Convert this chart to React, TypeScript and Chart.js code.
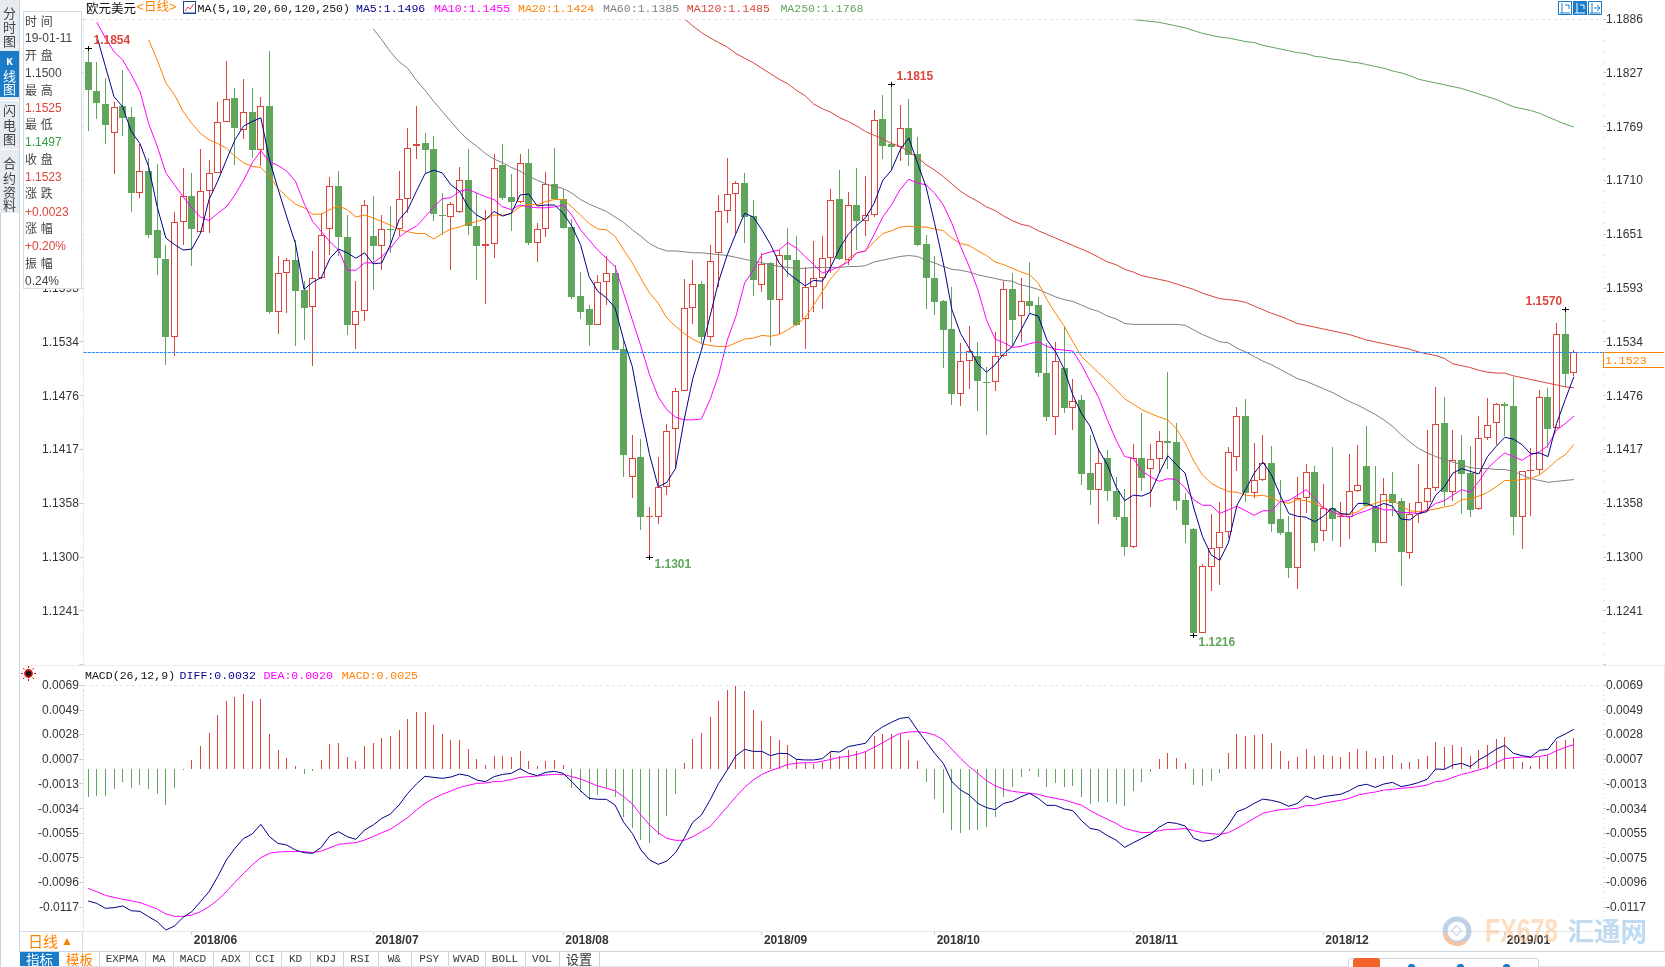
import React, { useEffect, useRef } from "react";
import Chart from "chart.js/auto";

const monthTickIndex = [12, 33, 55, 78, 98, 121, 143, 164];
const monthTickLabels = ["2018/06", "2018/07", "2018/08", "2018/09", "2018/10", "2018/11", "2018/12", "2019/01"];
const slotCount = 176;

const opens = [1.1839,1.1807,1.1793,1.1762,1.1791,1.1779,1.1696,1.1720,1.1656,1.1624,1.1539,1.1664,1.1693,1.1654,1.1698,1.1718,1.1773,1.1800,1.1765,1.1784,1.1743,1.1791,1.1567,1.1609,1.1623,1.1590,1.1572,1.1603,1.1657,1.1704,1.1648,1.1552,1.1568,1.1649,1.1638,1.1657,1.1657,1.1690,1.1747,1.1751,1.1744,1.1672,1.1670,1.1675,1.1710,1.1660,1.1638,1.1641,1.1727,1.1692,1.1686,1.1729,1.1642,1.1657,1.1706,1.1690,1.1659,1.1584,1.1570,1.1552,1.1599,1.1609,1.1526,1.1387,1.1409,1.1343,1.1343,1.1376,1.1439,1.1480,1.1571,1.1597,1.1539,1.1631,1.1677,1.1695,1.1707,1.1671,1.1596,1.1620,1.1580,1.1629,1.1623,1.1559,1.1594,1.1604,1.1625,1.1690,1.1623,1.1683,1.1666,1.1672,1.1777,1.1750,1.1746,1.1767,1.1739,1.1641,1.1604,1.1578,1.1548,1.1477,1.1513,1.1519,1.1490,1.1490,1.1519,1.1592,1.1562,1.1579,1.1574,1.1500,1.1452,1.1506,1.1462,1.1471,1.1391,1.1373,1.1407,1.1372,1.1343,1.1311,1.1408,1.1396,1.1406,1.1426,1.1425,1.1362,1.1330,1.1217,1.1289,1.1309,1.1327,1.1409,1.1453,1.1369,1.1383,1.1402,1.1341,1.1327,1.1288,1.1364,1.1392,1.1328,1.1353,1.1343,1.1343,1.1372,1.1399,1.1354,1.1315,1.1368,1.1361,1.1304,1.1346,1.1360,1.1375,1.1446,1.1370,1.1405,1.1391,1.1352,1.1429,1.1446,1.1466,1.1464,1.1343,1.1393,1.1394,1.1474,1.1440,1.1543,1.1500];
const highs = [1.1854,1.1839,1.1821,1.1795,1.1830,1.1790,1.1750,1.1734,1.1728,1.1639,1.1675,1.1723,1.1718,1.1744,1.1732,1.1795,1.1840,1.1811,1.1820,1.1810,1.1801,1.1851,1.1627,1.1625,1.1645,1.1600,1.1633,1.1674,1.1713,1.1720,1.1672,1.1600,1.1689,1.1693,1.1672,1.1682,1.1720,1.1767,1.1791,1.1762,1.1758,1.1696,1.1686,1.1724,1.1744,1.1696,1.1678,1.1739,1.1750,1.1717,1.1739,1.1744,1.1663,1.1719,1.1745,1.1700,1.1668,1.1610,1.1574,1.1607,1.1627,1.1618,1.1536,1.1433,1.1428,1.1354,1.1409,1.1445,1.1484,1.1602,1.1623,1.1600,1.1639,1.1694,1.1734,1.1709,1.1718,1.1689,1.1631,1.1621,1.1634,1.1658,1.1649,1.1615,1.1644,1.1649,1.1700,1.1721,1.1697,1.1723,1.1715,1.1786,1.1803,1.1815,1.1792,1.1798,1.1757,1.1650,1.1628,1.1580,1.1594,1.1533,1.1551,1.1534,1.1507,1.1545,1.1600,1.1609,1.1604,1.1621,1.1583,1.1533,1.1534,1.1551,1.1493,1.1476,1.1433,1.1418,1.1416,1.1387,1.1374,1.1423,1.1456,1.1423,1.1437,1.1501,1.1446,1.1369,1.1331,1.1292,1.1347,1.1360,1.1419,1.1463,1.1472,1.1424,1.1433,1.1421,1.1384,1.1344,1.1387,1.1401,1.1399,1.1379,1.1419,1.1360,1.1412,1.1422,1.1442,1.1399,1.1386,1.1392,1.1364,1.1358,1.1401,1.1438,1.1485,1.1474,1.1438,1.1432,1.1420,1.1453,1.1473,1.1467,1.1468,1.1496,1.1393,1.1418,1.1482,1.1484,1.1555,1.1570,1.1525];
const lows = [1.1764,1.1777,1.1750,1.1717,1.1758,1.1675,1.1691,1.1647,1.1607,1.1509,1.1519,1.1640,1.1617,1.1654,1.1653,1.1718,1.1773,1.1727,1.1755,1.1734,1.1726,1.1564,1.1543,1.1565,1.1530,1.1536,1.1508,1.1602,1.1629,1.1627,1.1541,1.1526,1.1557,1.1591,1.1612,1.1631,1.1649,1.1674,1.1733,1.1718,1.1666,1.1650,1.1612,1.1674,1.1650,1.1601,1.1575,1.1625,1.1689,1.1655,1.1685,1.1640,1.1621,1.1648,1.1689,1.1657,1.1581,1.1559,1.1529,1.1552,1.1574,1.1525,1.1387,1.1364,1.1329,1.1300,1.1336,1.1367,1.1395,1.1480,1.1553,1.1533,1.1534,1.1594,1.1663,1.1652,1.1642,1.1584,1.1588,1.1529,1.1543,1.1605,1.1551,1.1526,1.1566,1.1570,1.1609,1.1623,1.1618,1.1634,1.1649,1.1670,1.1733,1.1721,1.1731,1.1726,1.1638,1.1570,1.1563,1.1505,1.1465,1.1464,1.1483,1.1459,1.1432,1.1480,1.1518,1.1529,1.1534,1.1565,1.1496,1.1448,1.1433,1.1456,1.1438,1.1378,1.1356,1.1336,1.1361,1.1340,1.1301,1.1309,1.1371,1.1354,1.1391,1.1395,1.1351,1.1315,1.1215,1.1217,1.1263,1.1269,1.1320,1.1393,1.1359,1.1364,1.1382,1.1327,1.1324,1.1277,1.1265,1.1348,1.1306,1.1317,1.1317,1.1311,1.1319,1.1370,1.1355,1.1305,1.1315,1.1344,1.1268,1.1298,1.1337,1.1351,1.1371,1.1355,1.1361,1.1347,1.1343,1.1351,1.1427,1.1422,1.1431,1.1324,1.1308,1.1344,1.1389,1.1418,1.1440,1.1485,1.1497];
const closes = [1.1808,1.1794,1.1770,1.1790,1.1778,1.1696,1.1720,1.1650,1.1625,1.1539,1.1664,1.1693,1.1657,1.1698,1.1718,1.1773,1.1799,1.1767,1.1784,1.1743,1.1791,1.1567,1.1609,1.1623,1.1589,1.1571,1.1603,1.1650,1.1704,1.1648,1.1552,1.1568,1.1683,1.1638,1.1657,1.1656,1.1690,1.1745,1.1750,1.1743,1.1673,1.1671,1.1684,1.1710,1.1660,1.1638,1.1641,1.1723,1.1691,1.1686,1.1729,1.1642,1.1657,1.1706,1.1690,1.1658,1.1583,1.1567,1.1552,1.1599,1.1609,1.1525,1.1411,1.1408,1.1343,1.1344,1.1376,1.1437,1.1480,1.1571,1.1597,1.1539,1.1622,1.1677,1.1695,1.1707,1.1670,1.1601,1.1619,1.1580,1.1629,1.1623,1.1552,1.1594,1.1604,1.1625,1.1689,1.1624,1.1683,1.1666,1.1672,1.1776,1.1747,1.1746,1.1767,1.1738,1.1640,1.1603,1.1577,1.1547,1.1477,1.1513,1.1524,1.1491,1.1489,1.1519,1.1592,1.1558,1.1578,1.1573,1.1500,1.1452,1.1513,1.1462,1.1470,1.1390,1.1373,1.1402,1.1371,1.1343,1.1311,1.1407,1.1386,1.1406,1.1426,1.1424,1.1361,1.1335,1.1217,1.1290,1.1309,1.1327,1.1414,1.1453,1.1369,1.1383,1.1402,1.1336,1.1326,1.1288,1.1364,1.1392,1.1315,1.1353,1.1341,1.1344,1.1372,1.1378,1.1355,1.1315,1.1368,1.1358,1.1305,1.1347,1.1360,1.1375,1.1445,1.1370,1.1405,1.1390,1.1351,1.1429,1.1443,1.1466,1.1464,1.1343,1.1393,1.1394,1.1474,1.1439,1.1542,1.1499,1.1523];

const ma5Start = 1;
const ma5 = [1.1867,1.1834,1.1801,1.1790,1.1763,1.1750,1.1725,1.1681,1.1647,1.1640,1.1634,1.1635,1.1652,1.1689,1.1709,1.1732,1.1754,1.1769,1.1774,1.1778,1.1732,1.1700,1.1670,1.1641,1.1591,1.1599,1.1604,1.1625,1.1635,1.1631,1.1625,1.1631,1.1619,1.1620,1.1640,1.1667,1.1678,1.1698,1.1717,1.1721,1.1718,1.1705,1.1698,1.1681,1.1672,1.1667,1.1676,1.1671,1.1674,1.1694,1.1695,1.1682,1.1683,1.1683,1.1674,1.1660,1.1640,1.1605,1.1589,1.1582,1.1571,1.1536,1.1507,1.1456,1.1411,1.1376,1.1381,1.1396,1.1449,1.1494,1.1525,1.1562,1.1600,1.1629,1.1652,1.1674,1.1670,1.1656,1.1640,1.1620,1.1609,1.1602,1.1595,1.1601,1.1600,1.1616,1.1636,1.1651,1.1661,1.1669,1.1685,1.1710,1.1721,1.1743,1.1756,1.1729,1.1703,1.1663,1.1620,1.1569,1.1543,1.1527,1.1510,1.1501,1.1509,1.1521,1.1529,1.1547,1.1565,1.1562,1.1536,1.1523,1.1504,1.1476,1.1456,1.1442,1.1416,1.1400,1.1376,1.1361,1.1367,1.1366,1.1370,1.1391,1.1410,1.1400,1.1391,1.1353,1.1322,1.1302,1.1296,1.1315,1.1356,1.1373,1.1391,1.1403,1.1389,1.1367,1.1347,1.1344,1.1343,1.1338,1.1344,1.1353,1.1347,1.1346,1.1358,1.1358,1.1354,1.1358,1.1355,1.1341,1.1340,1.1347,1.1349,1.1367,1.1376,1.1391,1.1396,1.1393,1.1390,1.1409,1.1420,1.1430,1.1428,1.1422,1.1412,1.1413,1.1409,1.1445,1.1471,1.1496];
const ma10Start = 1;
const ma10 = [1.1882,1.1865,1.1850,1.1841,1.1825,1.1807,1.1772,1.1747,1.1718,1.1705,1.1692,1.1680,1.1670,1.1666,1.1674,1.1681,1.1694,1.1710,1.1729,1.1742,1.1730,1.1726,1.1720,1.1709,1.1685,1.1665,1.1654,1.1643,1.1634,1.1612,1.1612,1.1620,1.1620,1.1627,1.1636,1.1648,1.1655,1.1660,1.1670,1.1681,1.1690,1.1691,1.1698,1.1700,1.1696,1.1692,1.1689,1.1681,1.1678,1.1683,1.1681,1.1680,1.1680,1.1681,1.1683,1.1672,1.1656,1.1645,1.1634,1.1625,1.1616,1.1587,1.1558,1.1529,1.1498,1.1474,1.1460,1.1452,1.1449,1.1449,1.1450,1.1471,1.1498,1.1536,1.1562,1.1598,1.1612,1.1629,1.1632,1.1634,1.1642,1.1636,1.1627,1.1618,1.1609,1.1612,1.1616,1.1621,1.1631,1.1633,1.1651,1.1670,1.1683,1.1700,1.1711,1.1707,1.1705,1.1696,1.1683,1.1663,1.1638,1.1616,1.1591,1.1558,1.1537,1.1533,1.1528,1.1529,1.1532,1.1534,1.1529,1.1526,1.1525,1.1524,1.1509,1.1491,1.1473,1.1449,1.1427,1.1409,1.1407,1.1393,1.1387,1.1382,1.1385,1.1384,1.1375,1.1362,1.1356,1.1356,1.1347,1.1351,1.1355,1.1350,1.1345,1.1350,1.1350,1.1360,1.1361,1.1367,1.1373,1.1364,1.1353,1.1349,1.1345,1.1343,1.1347,1.1350,1.1354,1.1351,1.1351,1.1348,1.1348,1.1347,1.1351,1.1358,1.1361,1.1367,1.1373,1.1370,1.1382,1.1396,1.1405,1.1413,1.1409,1.1405,1.1411,1.1414,1.1421,1.1438,1.1445,1.1453];
const ma20Start = 7;
const ma20 = [1.1863,1.1841,1.1816,1.1803,1.1785,1.1772,1.1761,1.1754,1.1750,1.1745,1.1736,1.1729,1.1725,1.1724,1.1714,1.1701,1.1692,1.1684,1.1680,1.1673,1.1673,1.1678,1.1682,1.1678,1.1670,1.1672,1.1669,1.1665,1.1661,1.1656,1.1654,1.1652,1.1652,1.1646,1.1652,1.1657,1.1659,1.1663,1.1665,1.1668,1.1672,1.1672,1.1674,1.1681,1.1684,1.1683,1.1687,1.1689,1.1689,1.1681,1.1672,1.1663,1.1657,1.1656,1.1649,1.1634,1.1620,1.1603,1.1587,1.1576,1.1560,1.1551,1.1543,1.1537,1.1532,1.1530,1.1529,1.1529,1.1533,1.1537,1.1538,1.1541,1.1540,1.1542,1.1547,1.1553,1.1560,1.1574,1.1589,1.1603,1.1614,1.1625,1.1631,1.1633,1.1643,1.1652,1.1655,1.1659,1.1660,1.1659,1.1659,1.1657,1.1655,1.1647,1.1641,1.1639,1.1633,1.1628,1.1621,1.1618,1.1614,1.1610,1.1607,1.1598,1.1580,1.1565,1.1551,1.1534,1.1518,1.1509,1.1500,1.1491,1.1482,1.1472,1.1466,1.1460,1.1456,1.1452,1.1449,1.1439,1.1424,1.1404,1.1389,1.1380,1.1375,1.1371,1.1370,1.1367,1.1366,1.1367,1.1364,1.1360,1.1358,1.1362,1.1361,1.1358,1.1353,1.1349,1.1346,1.1346,1.1349,1.1355,1.1358,1.1361,1.1362,1.1355,1.1350,1.1349,1.1350,1.1352,1.1354,1.1356,1.1362,1.1363,1.1366,1.1370,1.1376,1.1383,1.1383,1.1384,1.1385,1.1389,1.1396,1.1405,1.1411,1.1422];
const ma60Start = 33;
const ma60 = [1.1875,1.1863,1.1850,1.1839,1.1832,1.1819,1.1808,1.1796,1.1785,1.1774,1.1763,1.1754,1.1747,1.1739,1.1733,1.1729,1.1724,1.1720,1.1714,1.1710,1.1706,1.1703,1.1701,1.1696,1.1689,1.1684,1.1680,1.1676,1.1670,1.1664,1.1656,1.1649,1.1641,1.1636,1.1633,1.1633,1.1632,1.1631,1.1631,1.1630,1.1629,1.1628,1.1626,1.1624,1.1622,1.1620,1.1618,1.1616,1.1615,1.1614,1.1614,1.1615,1.1615,1.1615,1.1615,1.1616,1.1616,1.1617,1.1621,1.1623,1.1625,1.1627,1.1628,1.1627,1.1623,1.1620,1.1616,1.1613,1.1612,1.1610,1.1607,1.1605,1.1603,1.1601,1.1600,1.1596,1.1594,1.1591,1.1587,1.1583,1.1580,1.1578,1.1574,1.1570,1.1567,1.1562,1.1559,1.1554,1.1553,1.1553,1.1553,1.1553,1.1553,1.1553,1.1552,1.1547,1.1542,1.1538,1.1534,1.1533,1.1527,1.1523,1.1518,1.1513,1.1509,1.1504,1.1499,1.1494,1.1491,1.1487,1.1483,1.1479,1.1474,1.1469,1.1465,1.1460,1.1455,1.1449,1.1442,1.1433,1.1425,1.1418,1.1413,1.1409,1.1406,1.1403,1.1400,1.1397,1.1396,1.1396,1.1395,1.1395,1.1393,1.1389,1.1385,1.1383,1.1381,1.1382,1.1383,1.1384];
const ma120Start = 69;
const ma120 = [1.1886,1.1878,1.1871,1.1865,1.1860,1.1855,1.1848,1.1843,1.1838,1.1832,1.1826,1.1820,1.1815,1.1808,1.1802,1.1793,1.1788,1.1784,1.1778,1.1774,1.1769,1.1763,1.1759,1.1755,1.1750,1.1747,1.1741,1.1735,1.1727,1.1721,1.1714,1.1706,1.1698,1.1692,1.1687,1.1681,1.1677,1.1671,1.1666,1.1662,1.1660,1.1655,1.1651,1.1647,1.1643,1.1639,1.1635,1.1631,1.1626,1.1621,1.1618,1.1613,1.1610,1.1606,1.1604,1.1602,1.1600,1.1597,1.1594,1.1591,1.1587,1.1584,1.1581,1.1580,1.1579,1.1577,1.1573,1.1569,1.1565,1.1562,1.1558,1.1554,1.1552,1.1550,1.1548,1.1546,1.1544,1.1542,1.1539,1.1536,1.1534,1.1532,1.1530,1.1528,1.1526,1.1523,1.1521,1.1519,1.1516,1.1510,1.1508,1.1506,1.1503,1.1501,1.1500,1.1500,1.1497,1.1495,1.1493,1.1491,1.1489,1.1487,1.1485,1.1484];
const ma250Start = 121;
const ma250 = [1.1885,1.1884,1.1883,1.1882,1.1880,1.1878,1.1876,1.1873,1.1870,1.1868,1.1866,1.1865,1.1863,1.1861,1.1860,1.1857,1.1855,1.1853,1.1851,1.1849,1.1848,1.1845,1.1844,1.1842,1.1841,1.1839,1.1838,1.1836,1.1834,1.1832,1.1829,1.1827,1.1824,1.1820,1.1818,1.1816,1.1814,1.1812,1.1810,1.1807,1.1804,1.1801,1.1798,1.1794,1.1790,1.1788,1.1786,1.1783,1.1779,1.1775,1.1771,1.1768];

const macdHist = [-0.00235,-0.00227,-0.00227,-0.00171,-0.00109,-0.00159,-0.00137,-0.00173,-0.0021,-0.00305,-0.00159,-0.00011,0.00073,0.0019,0.00302,0.0045,0.00568,0.00601,0.00629,0.00568,0.00585,0.00291,0.00157,0.00087,0.00022,-0.00042,-0.0002,0.00073,0.00207,0.00215,0.00098,0.00064,0.0019,0.00215,0.00257,0.00274,0.00324,0.00417,0.00475,0.00475,0.00366,0.00291,0.00241,0.00241,0.00165,0.00081,0.00031,0.00106,0.00106,0.00098,0.00148,0.00064,0.00022,0.00064,0.00073,0.00031,-0.00165,-0.00193,-0.00263,-0.00221,-0.00165,-0.00235,-0.00403,-0.00495,-0.00599,-0.00621,-0.00557,-0.00394,-0.00213,0.00048,0.00249,0.00299,0.00434,0.00568,0.0066,0.00694,0.00652,0.00492,0.004,0.00274,0.00241,0.00199,0.00081,0.00048,0.00039,0.00056,0.0014,0.00106,0.00157,0.00148,0.00148,0.00274,0.00291,0.00291,0.00291,0.00241,0.00064,-0.00109,-0.00252,-0.00369,-0.00512,-0.00537,-0.00512,-0.00512,-0.00487,-0.00403,-0.00235,-0.00151,-0.00067,-0.00017,-0.00067,-0.00151,-0.00117,-0.00151,-0.00145,-0.00235,-0.00294,-0.00277,-0.00277,-0.00294,-0.0031,-0.00185,-0.00109,-0.00025,0.00081,0.00131,0.0009,0.00048,-0.00134,-0.00143,-0.00101,-0.00034,0.00131,0.00291,0.00274,0.00283,0.00291,0.00215,0.00148,0.00064,0.00098,0.00165,0.00106,0.00115,0.00106,0.00098,0.0014,0.00165,0.00148,0.0009,0.00106,0.00115,0.00048,0.00056,0.00081,0.00106,0.00224,0.00182,0.00199,0.00182,0.00106,0.00157,0.00199,0.00249,0.00266,0.0009,0.00056,0.00022,0.00098,0.00115,0.00232,0.00241,0.00257];
const macdDiff = [-0.0111,-0.0113,-0.01172,-0.01166,-0.01152,-0.01192,-0.01197,-0.01242,-0.01284,-0.01354,-0.0132,-0.01247,-0.012,-0.01116,-0.01032,-0.00906,-0.00766,-0.00668,-0.00585,-0.00548,-0.00467,-0.00571,-0.00627,-0.00641,-0.00682,-0.00705,-0.0071,-0.0066,-0.00562,-0.00529,-0.00571,-0.00593,-0.00515,-0.00473,-0.00417,-0.0038,-0.00305,-0.00207,-0.00129,-0.00064,-0.00073,-0.00081,-0.0007,-0.00045,-0.00059,-0.00095,-0.00109,-0.00067,-0.00048,-0.00039,0,-0.00039,-0.00059,-0.00031,-0.00022,-0.00039,-0.00109,-0.00185,-0.00249,-0.00257,-0.00257,-0.00305,-0.0045,-0.00543,-0.00682,-0.00766,-0.00803,-0.00775,-0.00705,-0.00585,-0.0045,-0.00389,-0.00263,-0.00123,-0.00011,0.00109,0.00162,0.00145,0.00145,0.00109,0.00129,0.00126,0.00078,0.00073,0.00073,0.00084,0.00145,0.0014,0.00185,0.00199,0.00213,0.00302,0.00352,0.00389,0.00422,0.00431,0.00324,0.00227,0.00129,0.00045,-0.00109,-0.00179,-0.00221,-0.00291,-0.00327,-0.00344,-0.00291,-0.00274,-0.00235,-0.00207,-0.00249,-0.00308,-0.00308,-0.00338,-0.00352,-0.00436,-0.00501,-0.00515,-0.00562,-0.00599,-0.0066,-0.00621,-0.00585,-0.00548,-0.00492,-0.0045,-0.00459,-0.00481,-0.00585,-0.0061,-0.00599,-0.00562,-0.00473,-0.00361,-0.00333,-0.00291,-0.00255,-0.00266,-0.00283,-0.00316,-0.00291,-0.00229,-0.00257,-0.00235,-0.00224,-0.00215,-0.00185,-0.00145,-0.00131,-0.00157,-0.00129,-0.00115,-0.00151,-0.00137,-0.00117,-0.0009,-0.00003,-0.00006,0.00031,0.00045,0.00017,0.00073,0.00115,0.00162,0.00196,0.00129,0.00109,0.00098,0.00154,0.00162,0.00255,0.00291,0.0033];
const macdDea = [-0.01004,-0.01032,-0.01063,-0.0108,-0.01096,-0.01108,-0.01124,-0.0115,-0.01178,-0.01219,-0.01239,-0.01239,-0.01228,-0.012,-0.01158,-0.01102,-0.01032,-0.00954,-0.00878,-0.00808,-0.00747,-0.0071,-0.00699,-0.00696,-0.00696,-0.00696,-0.00705,-0.00691,-0.00663,-0.00635,-0.00627,-0.00621,-0.00599,-0.00571,-0.00537,-0.00509,-0.00459,-0.00411,-0.00347,-0.00291,-0.00249,-0.00215,-0.00187,-0.00157,-0.0014,-0.00123,-0.0012,-0.00109,-0.00106,-0.0009,-0.00073,-0.00067,-0.00062,-0.00053,-0.00048,-0.00048,-0.00067,-0.00087,-0.00115,-0.00145,-0.00165,-0.00185,-0.00235,-0.00296,-0.00389,-0.00473,-0.00537,-0.00585,-0.00601,-0.00601,-0.00571,-0.00529,-0.00487,-0.00403,-0.00319,-0.00235,-0.00157,-0.00095,-0.00048,-0.00017,0.00008,0.00036,0.00045,0.0005,0.0005,0.00062,0.00078,0.00095,0.00103,0.0012,0.00143,0.00179,0.00218,0.0026,0.00296,0.00308,0.0031,0.00302,0.00283,0.00241,0.00162,0.00087,0.00017,-0.00039,-0.00101,-0.00143,-0.00173,-0.0019,-0.00199,-0.00207,-0.00215,-0.00235,-0.00249,-0.00263,-0.00285,-0.00305,-0.00352,-0.00389,-0.00425,-0.00459,-0.00501,-0.0052,-0.00537,-0.00534,-0.0052,-0.00509,-0.00509,-0.00501,-0.0052,-0.00537,-0.00545,-0.00551,-0.00537,-0.00501,-0.00459,-0.00417,-0.00375,-0.00358,-0.00344,-0.00338,-0.00333,-0.0031,-0.00308,-0.00291,-0.00277,-0.00266,-0.00249,-0.00221,-0.00207,-0.00196,-0.00179,-0.00173,-0.00165,-0.00159,-0.00151,-0.00137,-0.00109,-0.00101,-0.00073,-0.00048,-0.00031,-0.00011,0.00011,0.0005,0.00084,0.00092,0.00098,0.00095,0.00103,0.00115,0.00151,0.00179,0.00201];

const mainTickValues = [1.1886,1.18274,1.17688,1.17102,1.16516,1.1593,1.15344,1.14758,1.14172,1.13586,1.13,1.12414];
const mainTickLabels = ["1.1886","1.1827","1.1769","1.1710","1.1651","1.1593","1.1534","1.1476","1.1417","1.1358","1.1300","1.1241"];
const macdTickValues = [0.00702,0.00498,0.00291,0.00081,-0.00123,-0.00332,-0.00537,-0.00744,-0.00948,-0.01157];
const macdTickLabels = ["0.0069","0.0049","0.0028","0.0007","-0.0013","-0.0034","-0.0055","-0.0075","-0.0096","-0.0117"];

const extremeIndex = [0, 93, 65, 171, 128];
const extremeValue = [1.1854, 1.1815, 1.13, 1.157, 1.1215];
const extremeText = ["1.1854", "1.1815", "1.1301", "1.1570", "1.1216"];
const extremeKind = ["high", "high", "low", "high", "low"];

const RED = "#dc453c";
const GREEN = "#60a55c";
const UI = '"Liberation Sans", Arial, sans-serif';
const CJK = '"Noto Sans CJK SC", sans-serif';
const MONO = '"Liberation Mono", "Noto Sans CJK SC", monospace';

const categories = Array.from({ length: slotCount }, (_, i) => {
  const k = monthTickIndex.indexOf(i);
  return k >= 0 ? monthTickLabels[k] : String(i);
});
const pad = (start: number, values: number[]) => [...Array(start).fill(null), ...values];
const isUp = opens.map((o, i) => closes[i] >= o);

const lineDs = (label: string, data: any[], color: string, order: number, yAxisID = "y") => ({
  type: "line" as const, label, data, borderColor: color, backgroundColor: color, borderWidth: 1,
  pointRadius: 0, tension: 0, order, yAxisID,
});

const snapBars = {
  id: "snapBars",
  afterDatasetsUpdate(chart: any) {
    chart.data.datasets.forEach((ds: any, i: number) => {
      if (ds.type === "line") return;
      chart.getDatasetMeta(i).data.forEach((el: any) => {
        el.x = Math.floor(el.x) + 0.5;
        el.y = Math.round(el.y);
        el.base = Math.round(el.base);
        if (ds.minHeight && el.base === el.y) el.base = el.y + 1;
      });
    });
  },
};

const axisMarks = (values: number[]) => ({
  id: "axisMarks",
  afterDraw(chart: any) {
    const { ctx, chartArea, scales } = chart;
    const y = scales.y;
    const stepPx = (y.getPixelForValue(values[values.length - 1]) - y.getPixelForValue(values[0])) / (values.length - 1);
    ctx.save();
    ctx.fillStyle = "#c4ccd2";
    const top = y.getPixelForValue(values[0]);
    for (let k = 0; top + (k * stepPx) / 5 < chartArea.bottom; k++) {
      const p = Math.round(top + (k * stepPx) / 5);
      if (k % 5 === 0) {
        ctx.fillRect(chartArea.left - 4.5, p, 4, 1);
        ctx.fillRect(chartArea.right - 1, p, 3, 1);
      } else {
        ctx.fillRect(chartArea.left - 1, p, 1, 1);
        ctx.fillRect(chartArea.right - 1, p, 1, 1);
      }
    }
    ctx.strokeStyle = "#e4e4e4";
    ctx.setLineDash([3, 3]);
    ctx.beginPath();
    ctx.moveTo(chartArea.left, Math.round(top) + 0.5);
    ctx.lineTo(chartArea.right - 4, Math.round(top) + 0.5);
    ctx.stroke();
    ctx.restore();
  },
});

const priceMarks = {
  id: "priceMarks",
  afterDatasetsDraw(chart: any) {
    const { ctx, chartArea, scales } = chart;
    const last = closes[closes.length - 1];
    const py = Math.round(scales.y.getPixelForValue(last)) + 0.5;
    ctx.save();
    ctx.strokeStyle = "#1a8cff";
    ctx.lineWidth = 1;
    ctx.setLineDash([3, 1]);
    ctx.beginPath();
    ctx.moveTo(chartArea.left, py);
    ctx.lineTo(chartArea.right, py);
    ctx.stroke();
    ctx.setLineDash([]);
    ctx.font = `bold 12px ${UI}`;
    ctx.textBaseline = "middle";
    extremeIndex.forEach((idx, k) => {
      const x = Math.floor(scales.x.getPixelForValue(idx)) + 0.5;
      const y = Math.round(scales.y.getPixelForValue(extremeValue[k]));
      ctx.fillStyle = "#000";
      ctx.fillRect(x - 3.5, y, 7, 1);
      ctx.fillRect(x - 0.5, y - 2, 1, 5);
      const high = extremeKind[k] === "high";
      ctx.fillStyle = high ? RED : GREEN;
      const dx = idx === 171 ? -40 : 5;
      ctx.fillText(extremeText[k], x + dx, y + (high ? -7 : 8));
    });
    ctx.restore();
  },
};

const LEFT_W = 83.8;
const RIGHT_W = 1665 - 1604.1;

const valueAxis = (position: string, min: number, max: number, values: number[], labels: string[], borderOn: boolean, width: number) => ({
  type: "linear" as const, position, min, max,
  afterBuildTicks: (s: any) => { s.ticks = values.map((value) => ({ value })); },
  afterFit: (s: any) => { s.width = width; s.paddingTop = 0; s.paddingBottom = 0; },
  grid: { display: false, drawTicks: false },
  border: { display: borderOn, color: "#e6eef2" },
  ticks: {
    autoSkip: false, padding: position === "left" ? 5 : 2, color: "#333", labelOffset: 1,
    font: { family: '"Liberation Sans", Arial', size: 12 },
    callback: (_: any, i: number) => labels[i],
  },
});

function Txt({ x, cy, children, color = "#333", font = UI, size = 12, bold = false, style = {} }: any) {
  return (
    <div style={{ position: "absolute", left: x, top: cy - 9, height: 18, lineHeight: "18px", whiteSpace: "pre", color, fontFamily: font, fontSize: size, fontWeight: bold ? 700 : 400, ...style }}>
      {children}
    </div>
  );
}
const Box = ({ x, y, w, h, style = {} }: any) => <div style={{ position: "absolute", left: x, top: y, width: w, height: h, ...style }} />;

const infoRows = [
  ["时 间", "#444", 20.7], ["19-01-11", "#444", 38.3], ["开 盘", "#444", 55], ["1.1500", "#444", 72.7],
  ["最 高", "#444", 90], ["1.1525", RED, 107.7], ["最 低", "#444", 124], ["1.1497", "#2f9e3f", 141.7],
  ["收 盘", "#444", 159], ["1.1523", RED, 176.7], ["涨 跌", "#444", 193], ["+0.0023", RED, 211.7],
  ["涨 幅", "#444", 227.7], ["+0.20%", RED, 245.7], ["振 幅", "#444", 262.7], ["0.24%", "#444", 280.7],
];
const headerItems = [
  ["MA(5,10,20,60,120,250)", "#111", 197.5], ["MA5:1.1496", "#00008b", 356], ["MA10:1.1455", "#ff00ff", 434],
  ["MA20:1.1424", "#ff8000", 518], ["MA60:1.1385", "#808080", 603], ["MA120:1.1485", RED, 686.8], ["MA250:1.1768", GREEN, 780.4],
];
const macdItems = [
  ["MACD(26,12,9)", "#111", 85], ["DIFF:0.0032", "#00008b", 179.6], ["DEA:0.0020", "#ff00ff", 263.6], ["MACD:0.0025", "#ff8000", 341.8],
];
const tabs = [
  ["EXPMA", 99.3, 145], ["MA", 145, 173], ["MACD", 173, 213], ["ADX", 213, 249], ["CCI", 249, 281.4], ["KD", 281.4, 309.6],
  ["KDJ", 309.6, 343], ["RSI", 343, 377.5], ["W&", 377.5, 411], ["PSY", 411, 447.5], ["WVAD", 447.5, 485], ["BOLL", 485, 525], ["VOL", 525, 559], ["设置", 559, 599],
];
const sideChars = [
  ["分", 13, "#444"], ["时", 27, "#444"], ["图", 41, "#444"], ["K", 62, "#fff"], ["线", 76, "#fff"], ["图", 89, "#fff"],
  ["闪", 110, "#444"], ["电", 125, "#444"], ["图", 139, "#444"], ["合", 163, "#444"], ["约", 178, "#444"], ["资", 192, "#444"], ["料", 205, "#444"],
];

export default function App() {
  const mainRef = useRef<HTMLCanvasElement | null>(null);
  const macdRef = useRef<HTMLCanvasElement | null>(null);

  useEffect(() => {
    const main = new Chart(mainRef.current as any, {
      type: "bar",
      plugins: [snapBars, axisMarks(mainTickValues), priceMarks],
      data: {
        labels: categories,
        datasets: [
          lineDs("MA5", pad(ma5Start, ma5), "#00008b", 1),
          lineDs("MA10", pad(ma10Start, ma10), "#ff00ff", 2),
          lineDs("MA20", pad(ma20Start, ma20), "#ff8000", 3),
          lineDs("MA60", pad(ma60Start, ma60), "#808080", 4),
          lineDs("MA120", pad(ma120Start, ma120), "#d9443c", 5),
          lineDs("MA250", pad(ma250Start, ma250), "#5fa55a", 6),
          {
            label: "body", order: 10, grouped: false, barThickness: 7, minHeight: true, yAxisID: "y",
            data: opens.map((o, i) => [o, closes[i]]),
            backgroundColor: isUp.map((u) => (u ? "#ffffff" : GREEN)),
            borderColor: isUp.map((u) => (u ? RED : GREEN)),
            borderWidth: 1, borderSkipped: false, inflateAmount: 0,
          } as any,
          {
            label: "wick", order: 11, grouped: false, barThickness: 1, yAxisID: "y",
            data: lows.map((l, i) => [l, highs[i]]),
            backgroundColor: isUp.map((u) => (u ? RED : GREEN)),
            borderWidth: 0, inflateAmount: 0,
          } as any,
        ],
      },
      options: {
        responsive: false, animation: false, devicePixelRatio: 1, events: [],
        layout: { padding: { top: 18.67, bottom: 2, left: 0, right: 0 } },
        plugins: { legend: { display: false }, tooltip: { enabled: false } },
        scales: {
          x: { type: "category", display: false, offset: true, grid: { display: false } },
          y: valueAxis("left", 1.1182, 1.1886, mainTickValues, mainTickLabels, true, LEFT_W),
          yR: valueAxis("right", 1.1182, 1.1886, mainTickValues, mainTickLabels, false, RIGHT_W),
        },
      } as any,
    });

    const macd = new Chart(macdRef.current as any, {
      type: "bar",
      plugins: [snapBars, axisMarks(macdTickValues)],
      data: {
        labels: categories,
        datasets: [
          lineDs("DIFF", macdDiff, "#00008b", 1),
          lineDs("DEA", macdDea, "#ff00ff", 2),
          {
            label: "MACD", order: 5, grouped: false, barThickness: 1, yAxisID: "y",
            data: macdHist,
            backgroundColor: macdHist.map((v) => (v >= 0 ? RED : GREEN)),
            borderWidth: 0, inflateAmount: 0,
          } as any,
        ],
      },
      options: {
        responsive: false, animation: false, devicePixelRatio: 1, events: [],
        layout: { padding: { top: 20, bottom: 0, left: 0, right: 0 } },
        plugins: { legend: { display: false }, tooltip: { enabled: false } },
        scales: {
          x: {
            type: "category", offset: true,
            afterBuildTicks: (s: any) => { s.ticks = monthTickIndex.map((value) => ({ value })); },
            afterFit: (s: any) => { s.height = 19; s.paddingLeft = 0; s.paddingRight = 0; },
            grid: { drawOnChartArea: false, offset: false, tickLength: 4, tickColor: "#c6d3de" },
            border: { display: true, color: "#e8e8e8" },
            ticks: { autoSkip: false, maxRotation: 0, minRotation: 0, align: "start", padding: -2, labelOffset: 2, color: "#333", font: { family: '"Liberation Sans", Arial', size: 12, weight: "bold" } },
          },
          y: valueAxis("left", -0.01362, 0.00702, macdTickValues, macdTickLabels, true, LEFT_W),
          yR: valueAxis("right", -0.01362, 0.00702, macdTickValues, macdTickLabels, false, RIGHT_W),
        },
      } as any,
    });
    return () => { main.destroy(); macd.destroy(); };
  }, []);

  return (
    <div style={{ position: "fixed", left: 0, top: 0, width: 1665, height: 967, background: "#fff", overflow: "hidden" }}>
      <canvas ref={mainRef} width={1665} height={667} style={{ position: "absolute", left: 0, top: 0, width: 1665, height: 667, display: "block" }} />
      <canvas ref={macdRef} width={1665} height={285} style={{ position: "absolute", left: 0, top: 665, width: 1665, height: 285, display: "block" }} />

      {/* sidebar */}
      <Box x={0} y={0} w={19} h={213} style={{ background: "#e7ecf1" }} />
      <Box x={0} y={51} w={19} h={46} style={{ background: "#1a7cc9" }} />
      <Box x={0} y={213} w={1} h={754} style={{ background: "#c9d5df" }} />
      <Box x={19} y={0} w={1} h={952} style={{ background: "#c9d5df" }} />
      <Box x={0} y={46} w={19} h={1} style={{ background: "#fff" }} />
      <Box x={0} y={100} w={19} h={1} style={{ background: "#fff" }} />
      <Box x={0} y={149} w={19} h={1} style={{ background: "#fff" }} />
      {sideChars.map(([c, cy, col]: any, i) => (
        <div key={i} style={{ position: "absolute", left: 0, width: 19, top: cy - 8, height: 16, lineHeight: "16px", textAlign: "center", fontFamily: c === "K" ? MONO : CJK, fontSize: c === "K" ? 11 : 13, fontWeight: c === "K" ? 700 : 400, color: col }}>{c}</div>
      ))}

      {/* info box */}
      <Box x={22.5} y={11} w={59} h={278} style={{ background: "#fff", border: "1px solid #d5dde4", boxSizing: "border-box" }} />
      {infoRows.map(([t, col, cy]: any, i) => (
        <Txt key={i} x={25} cy={cy} color={col} font={String(t).includes(" ") ? CJK : UI} size={12} style={String(t).includes(" ") ? { wordSpacing: 1 } : {}}>{t}</Txt>
      ))}

      {/* header */}
      <Txt x={86} cy={8.3} color="#111" font={CJK} size={12.5}>欧元美元</Txt>
      <Txt x={136.5} cy={8.3} color="#ff8000" font={MONO} size={12.5}>{"<日线>"}</Txt>
      <svg style={{ position: "absolute", left: 183, top: 1 }} width={13} height={13}>
        <rect x={0.5} y={0.5} width={12} height={12} fill="#fff" stroke="#23408f" />
        <polyline points="2,10 5,6 7,8 11,3" fill="none" stroke="#e0433a" />
        <line x1={1} y1={12} x2={12} y2={12} stroke="#23408f" />
      </svg>
      {headerItems.map(([t, col, x]: any, i) => <Txt key={i} x={x} cy={9} color={col} font={MONO} size={11.55}>{t}</Txt>)}
      {[1557.5, 1573, 1588].map((x, i) => (
        <svg key={i} style={{ position: "absolute", left: x, top: 1 }} width={14} height={14}>
          <rect x={0.5} y={0.5} width={13} height={13} fill={i === 1 ? "#1a7cc9" : "#fff"} stroke="#1a7cc9" />
          <path d="M4 2v10M2 12h10" stroke={i === 1 ? "#fff" : "#1a7cc9"} fill="none" />
          <path d={i === 2 ? "M6 7h6M9 4l3 3-3 3" : "M7 4h4v4"} stroke={i === 1 ? "#fff" : "#1a7cc9"} fill="none" />
        </svg>
      ))}

      {/* price box */}
      <Box x={1602.5} y={352} w={61} h={16} style={{ background: "#fff", border: "1px solid #ff8000", borderRight: "none", boxSizing: "border-box" }} />
      <Txt x={1605} cy={360.5} color="#ff8000" font={MONO} size={11.55}>1.1523</Txt>

      {/* separators */}
      <Box x={20} y={665} w={1645} h={1} style={{ background: "#ececec" }} />
      <Box x={20} y={951} w={1645} h={1} style={{ background: "#c9d5df" }} />
      <Box x={1664} y={665} w={1} h={286} style={{ background: "#e8e8e8" }} />

      {/* macd header */}
      <svg style={{ position: "absolute", left: 21, top: 666 }} width={15} height={15}>
        <circle cx={7.5} cy={7.5} r={3.6} fill="#111" stroke="#e01010" strokeWidth={1.6} />
        <path d="M7.5 0v2M7.5 13v2M0 7.5h2M13 7.5h2M2 2l1.5 1.5M11.5 11.5L13 13M13 2l-1.5 1.5M3.5 11.5L2 13" stroke="#e01010" />
      </svg>
      {macdItems.map(([t, col, x]: any, i) => <Txt key={i} x={x} cy={675.5} color={col} font={MONO} size={11.55}>{t}</Txt>)}

      {/* bottom */}
      <Box x={20} y={931} w={63} h={20} style={{ background: "#fff", borderTop: "1px solid #d5dde4", borderRight: "1px solid #d5dde4", boxSizing: "border-box" }} />
      <Txt x={28} cy={940.5} color="#ff8000" font={CJK} size={15}>日线</Txt>
      <Txt x={61} cy={941} color="#ff8000" font={UI} size={12}>▲</Txt>
      <Box x={20} y={952} w={39} h={15} style={{ background: "#1a7cc9" }} />
      <div style={{ position: "absolute", left: 20, width: 39, top: 951, height: 16, lineHeight: "16px", textAlign: "center", color: "#fff", fontFamily: CJK, fontSize: 13.5 }}>指标</div>
      <div style={{ position: "absolute", left: 60, width: 39, top: 951, height: 16, lineHeight: "16px", textAlign: "center", color: "#ff8000", fontFamily: CJK, fontSize: 13.5 }}>模板</div>
      <Box x={99} y={952} w={1} h={15} style={{ background: "#c9d5df" }} />
      {tabs.map(([t, x0, x1]: any, i) => (
        <React.Fragment key={i}>
          <div style={{ position: "absolute", left: x0, width: x1 - x0, top: 951, height: 16, lineHeight: "16px", textAlign: "center", color: "#333", fontFamily: t === "设置" ? CJK : MONO, fontSize: t === "设置" ? 13 : 11 }}>{t}</div>
          <Box x={x1} y={952} w={1} h={15} style={{ background: "#c9d5df" }} />
        </React.Fragment>
      ))}
      <Box x={20} y={966} w={1645} h={1} style={{ background: "#dfe5ea" }} />

      {/* popup fragment */}
      <Box x={1348} y={958} w={191} h={12} style={{ background: "#fff", border: "1px solid #c9d5df", borderRadius: 3, boxSizing: "border-box" }} />
      <Box x={1353} y={958} w={27} h={9} style={{ background: "#f4632a", borderRadius: "3px 3px 0 0" }} />
      {[1408, 1457, 1503].map((x, i) => <Box key={i} x={x} y={964} w={7} h={3} style={{ background: "#1a7cc9", borderRadius: "3px 3px 0 0" }} />)}

      {/* watermark */}
      <svg style={{ position: "absolute", left: 1441, top: 915, opacity: 0.75 }} width={31} height={33}>
        <circle cx={16} cy={16} r={12} fill="none" stroke="#a9c2de" strokeWidth={5} />
        <path d="M4 18a12 12 0 0 0 20 8" fill="none" stroke="#f4b183" strokeWidth={4} />
        <rect x={12} y={12} width={7} height={7} fill="none" stroke="#a9c2de" transform="rotate(45 15.5 15.5)" />
      </svg>
      <div style={{ position: "absolute", left: 1485, top: 911, height: 38, lineHeight: "38px", fontFamily: UI, fontWeight: 700, fontSize: 34, color: "rgba(250,190,130,.5)", transform: "scaleX(.73)", transformOrigin: "left center", whiteSpace: "pre" }}>FX678</div>
      <div style={{ position: "absolute", left: 1567.5, top: 911, height: 38, lineHeight: "38px", fontFamily: CJK, fontWeight: 700, fontSize: 26.5, color: "rgba(150,195,232,.6)", whiteSpace: "pre" }}>汇通网</div>
    </div>
  );
}
